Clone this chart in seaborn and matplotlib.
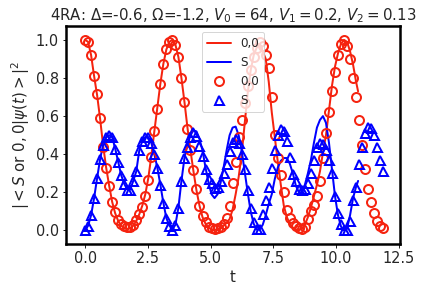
import numpy as np
import pandas as pd
import matplotlib
matplotlib.use('Agg')
import matplotlib.pyplot as plt
import seaborn as sns

# 측정 데이터 (마커) : 시간, |<0,0|psi>|^2, |<S|psi>|^2
t_exp = [0.00, 0.12, 0.24, 0.36, 0.48, 0.60, 0.72, 0.84, 0.96, 1.08,
         1.20, 1.32, 1.44, 1.56, 1.68, 1.80, 1.92, 2.04, 2.16, 2.28,
         2.40, 2.52, 2.64, 2.76, 2.88, 3.00, 3.12, 3.24, 3.36, 3.48,
         3.60, 3.72, 3.84, 3.96, 4.08, 4.20, 4.32, 4.44, 4.56, 4.68,
         4.80, 4.92, 5.04, 5.16, 5.28, 5.40, 5.52, 5.64, 5.76, 5.88,
         6.00, 6.12, 6.24, 6.36, 6.48, 6.60, 6.72, 6.84, 6.96, 7.08,
         7.20, 7.32, 7.44, 7.56, 7.68, 7.80, 7.92, 8.04, 8.16, 8.28,
         8.40, 8.52, 8.64, 8.76, 8.88, 9.00, 9.12, 9.24, 9.36, 9.48,
         9.60, 9.72, 9.84, 9.96, 10.08, 10.20, 10.32, 10.44, 10.56, 10.68,
         10.80, 10.92, 11.04, 11.16, 11.28, 11.40, 11.52, 11.64, 11.76, 11.88]
p00_exp = [1.00, 0.99, 0.92, 0.81, 0.715, 0.59, 0.44, 0.33, 0.235, 0.15,
           0.095, 0.055, 0.033, 0.022, 0.017, 0.02, 0.03, 0.055, 0.085, 0.125,
           0.18, 0.265, 0.385, 0.52, 0.635, 0.77, 0.875, 0.95, 0.99, 1.00,
           0.975, 0.91, 0.80, 0.675, 0.535, 0.42, 0.318, 0.22, 0.13, 0.075,
           0.042, 0.02, 0.012, 0.01, 0.012, 0.02, 0.035, 0.065, 0.13, 0.25,
           0.36, 0.49, 0.58, 0.67, 0.76, 0.84, 0.91, 0.96, 0.99, 0.97,
           0.92, 0.85, 0.70, 0.50, 0.38, 0.29, 0.20, 0.11, 0.065, 0.04,
           0.025, 0.012, 0.01, 0.02, 0.06, 0.10, 0.135, 0.18, 0.26, 0.38,
           0.51, 0.62, 0.73, 0.83, 0.92, 0.98, 1.00, 0.97, 0.90, 0.80,
           0.70, 0.58, 0.45, 0.32, 0.22, 0.15, 0.09, 0.05, 0.025, 0.015]
pS_exp = [0.0, 0.025, 0.08, 0.17, 0.275, 0.375, 0.45, 0.49, 0.50, 0.49,
          0.43, 0.36, 0.29, 0.245, 0.215, 0.215, 0.26, 0.31, 0.42, 0.47,
          0.49, 0.49, 0.46, 0.40, 0.33, 0.24, 0.145, 0.065, 0.025, 0.005,
          0.03, 0.12, 0.26, 0.38, 0.44, 0.49, 0.515, 0.495, 0.445, 0.39,
          0.325, 0.27, 0.25, 0.225, 0.23, 0.26, 0.30, 0.35, 0.415, 0.465,
          0.48, 0.46, 0.40, 0.325, 0.215, 0.12, 0.045, 0.01, 0.01, 0.085,
          0.16, 0.23, 0.33, 0.42, 0.50, 0.535, 0.52, 0.47, 0.385, 0.295,
          0.26, 0.22, 0.21, 0.22, 0.25, 0.30, 0.37, 0.44, 0.46, 0.455,
          0.42, 0.37, 0.30, 0.18, 0.09, 0.035, 0.005, 0.005, 0.05, 0.16,
          0.23, 0.35, 0.44, 0.51, 0.545, 0.54, 0.50, 0.44, 0.37, 0.31]

# 시뮬레이션 결과 (실선)
t_sim = [0.00, 0.12, 0.24, 0.36, 0.48, 0.60, 0.72, 0.84, 0.96, 1.08,
         1.20, 1.32, 1.44, 1.56, 1.68, 1.80, 1.92, 2.04, 2.16, 2.28,
         2.40, 2.52, 2.64, 2.76, 2.88, 3.00, 3.12, 3.24, 3.36, 3.48,
         3.60, 3.72, 3.84, 3.96, 4.08, 4.20, 4.32, 4.44, 4.56, 4.68,
         4.80, 4.92, 5.04, 5.16, 5.28, 5.40, 5.52, 5.64, 5.76, 5.88,
         6.00, 6.12, 6.24, 6.36, 6.48, 6.60, 6.72, 6.84, 6.96, 7.08,
         7.20, 7.32, 7.44, 7.56, 7.68, 7.80, 7.92, 8.04, 8.16, 8.28,
         8.40, 8.52, 8.64, 8.76, 8.88, 9.00, 9.12, 9.24, 9.36, 9.48,
         9.60, 9.72, 9.84, 9.96, 10.08, 10.20, 10.32, 10.44, 10.56, 10.68,
         10.80, 10.88]
p00_sim = [1.00, 0.99, 0.92, 0.81, 0.71, 0.585, 0.445, 0.33, 0.235, 0.15,
           0.09, 0.05, 0.025, 0.012, 0.008, 0.012, 0.025, 0.05, 0.085, 0.13,
           0.19, 0.275, 0.39, 0.52, 0.645, 0.77, 0.875, 0.95, 0.99, 1.00,
           0.975, 0.91, 0.80, 0.675, 0.54, 0.42, 0.31, 0.21, 0.13, 0.07,
           0.035, 0.015, 0.006, 0.004, 0.006, 0.012, 0.025, 0.04, 0.06, 0.11,
           0.19, 0.28, 0.40, 0.56, 0.72, 0.84, 0.92, 0.96, 0.97, 0.94,
           0.90, 0.78, 0.62, 0.49, 0.36, 0.24, 0.13, 0.07, 0.035, 0.015,
           0.006, 0.004, 0.008, 0.03, 0.07, 0.12, 0.18, 0.24, 0.31, 0.41,
           0.50, 0.63, 0.76, 0.86, 0.93, 0.98, 1.00, 0.99, 0.94, 0.87,
           0.78, 0.73]
pS_sim = [0.0, 0.025, 0.08, 0.17, 0.275, 0.375, 0.45, 0.49, 0.50, 0.49,
          0.43, 0.36, 0.29, 0.245, 0.215, 0.215, 0.26, 0.31, 0.42, 0.47,
          0.49, 0.49, 0.46, 0.40, 0.33, 0.24, 0.145, 0.065, 0.025, 0.005,
          0.03, 0.12, 0.26, 0.38, 0.45, 0.50, 0.525, 0.52, 0.48, 0.42,
          0.33, 0.25, 0.19, 0.17, 0.19, 0.25, 0.33, 0.42, 0.50, 0.54,
          0.545, 0.50, 0.42, 0.31, 0.20, 0.10, 0.035, 0.005, 0.005, 0.03,
          0.08, 0.14, 0.19, 0.27, 0.33, 0.365, 0.38, 0.38, 0.35, 0.30,
          0.235, 0.20, 0.20, 0.24, 0.30, 0.37, 0.46, 0.54, 0.58, 0.60,
          0.565, 0.46, 0.32, 0.18, 0.08, 0.02, 0.0, 0.01, 0.08, 0.17,
          0.23, 0.26]

RED = '#f5230f'
BLUE = '#0000ff'

sns.set_style('ticks')
plt.rcParams['font.family'] = ['DejaVu Sans']

fig = plt.figure(figsize=(437 / 72, 292 / 72), dpi=72)
ax = fig.add_axes([66 / 437, 1 - 244 / 292, 334 / 437, 218 / 292])

sns.lineplot(x=t_sim, y=p00_sim, color=RED, lw=2, label='0,0',
             sort=False, estimator=None, ax=ax)
sns.lineplot(x=t_sim, y=pS_sim, color=BLUE, lw=2, label='S',
             sort=False, estimator=None, ax=ax)
sns.lineplot(x=t_exp, y=p00_exp, color=RED, linestyle='', marker='o',
             markersize=9, mfc='none', mec=RED, mew=2, label='0,0',
             sort=False, estimator=None, ax=ax)
sns.lineplot(x=t_exp, y=pS_exp, color=BLUE, linestyle='', marker='^',
             markersize=9, mfc='none', mec=BLUE, mew=2, label='S',
             sort=False, estimator=None, ax=ax)

ax.set_xlim(-0.76, 12.55)
ax.set_ylim(-0.071, 1.073)
ax.set_xticks([0, 2.5, 5, 7.5, 10, 12.5])
ax.set_yticks([0, 0.2, 0.4, 0.6, 0.8, 1.0])
ax.tick_params(labelsize=14.5, width=1, length=3.5)
for s in ax.spines.values():
    s.set_linewidth(2.5)
    s.set_color('black')

ax.set_title(r'4RA: Δ=-0.6, Ω=-1.2, $V_0=64$, $V_1=0.2$, $V_2=0.13$', fontsize=15)
ax.set_xlabel('t', fontsize=15)
ax.set_ylabel(r'$|<S$ or $0,0|\psi(t)>|^2$', fontsize=15)
ax.legend(loc='upper center', fontsize=12)

fig.savefig('out.png', dpi=72)
